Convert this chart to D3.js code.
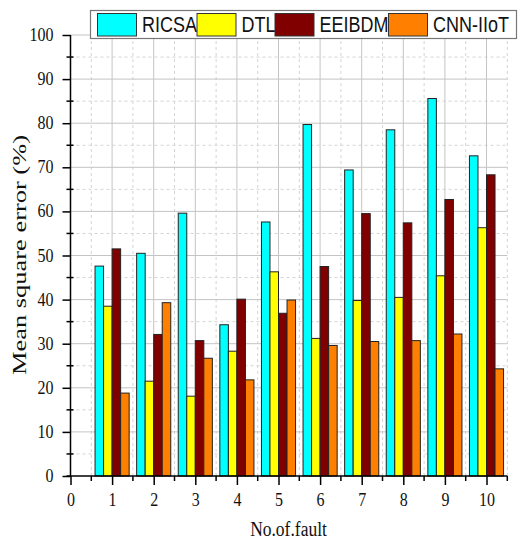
<!DOCTYPE html>
<html>
<head>
<meta charset="utf-8">
<script src="https://cdn.jsdelivr.net/npm/d3@7"></script>
<style>
  body { margin: 0; background: #fff; }
  svg { display: block; }
</style>
</head>
<body>
<div id="chart"></div>
<script>
// values
const faults = [1, 2, 3, 4, 5, 6, 7, 8, 9, 10];
const seriesNames = ["RICSA", "DTL", "EEIBDM", "CNN-IIoT"];
const ricsa  = [47.6, 50.5, 59.6, 34.3, 57.6, 79.7, 69.4, 78.5, 85.6, 72.6];
const dtl    = [38.5, 21.5, 18.1, 28.3, 46.3, 31.2, 39.8, 40.5, 45.4, 56.3];
const eeibdm = [51.5, 32.1, 30.7, 40.1, 36.9, 47.5, 59.5, 57.4, 62.7, 68.3];
const cnn    = [18.8, 39.3, 26.7, 21.8, 39.9, 29.6, 30.5, 30.7, 32.2, 24.3];
const xTicks = [0, 1, 2, 3, 4, 5, 6, 7, 8, 9, 10];
const yTicks = [0, 10, 20, 30, 40, 50, 60, 70, 80, 90, 100];

const colors = ["#00ffff", "#ffff00", "#800000", "#ff8000"];
const serif = "'Liberation Serif', 'Times New Roman', serif";
const sans = "'Liberation Sans', Arial, sans-serif";

const W = 519, H = 542;
const svg = d3.select("#chart").append("svg")
    .attr("width", W)
    .attr("height", H);

const x = d3.scaleLinear().domain([0, 10.5]).range([70.5, 507.3]);
const y = d3.scaleLinear().domain([0, 100]).range([476, 35]);

// grid
const grid = svg.append("g");
const halfX = d3.range(0.5, 10.6, 1);
const halfY = d3.range(5, 100, 10);
grid.selectAll(".vminor").data(halfX).enter().append("line")
    .attr("x1", d => x(d)).attr("x2", d => x(d))
    .attr("y1", y(0)).attr("y2", y(100))
    .attr("stroke", "#d4d4d4").attr("stroke-dasharray", "3,3");
grid.selectAll(".hminor").data(halfY).enter().append("line")
    .attr("x1", x(0)).attr("x2", x(10.5))
    .attr("y1", d => y(d)).attr("y2", d => y(d))
    .attr("stroke", "#d4d4d4").attr("stroke-dasharray", "3,3");
grid.selectAll(".vmajor").data(xTicks.slice(1)).enter().append("line")
    .attr("x1", d => x(d)).attr("x2", d => x(d))
    .attr("y1", y(0)).attr("y2", y(100))
    .attr("stroke", "#c4c4c4");
grid.selectAll(".hmajor").data(yTicks.slice(1)).enter().append("line")
    .attr("x1", x(0)).attr("x2", x(10.5))
    .attr("y1", d => y(d)).attr("y2", d => y(d))
    .attr("stroke", "#c4c4c4");

// bars
const series = [ricsa, dtl, eeibdm, cnn];
const bw = 0.205;
series.forEach((vals, s) => {
    svg.append("g").selectAll("rect")
        .data(vals)
        .enter()
        .append("rect")
        .attr("x", (d, i) => x(faults[i] - 0.41 + s * bw))
        .attr("y", d => y(d))
        .attr("width", x(bw) - x(0))
        .attr("height", d => y(0) - y(d))
        .attr("fill", colors[s])
        .attr("stroke", "#222")
        .attr("stroke-width", 1);
});

// axes
const yAxis = svg.append("g")
    .attr("transform", `translate(${x(0)},0)`)
    .call(d3.axisLeft(y).tickValues(yTicks).tickSize(8).tickPadding(9));
yAxis.select(".domain").attr("stroke-width", 1.5).attr("d", `M0,${y(0)}V${y(100)}`);
yAxis.selectAll(".tick line").attr("stroke-width", 1.5);
yAxis.selectAll(".tick text")
    .attr("font-family", serif).attr("font-size", 16).attr("fill", "#111")
    .attr("dy", "0.3em")
    .attr("transform", "scale(1,1.15)");

svg.append("g").selectAll("line").data(halfY).enter().append("line")
    .attr("x1", x(0) - 4).attr("x2", x(0) + 3)
    .attr("y1", d => y(d)).attr("y2", d => y(d))
    .attr("stroke", "#000").attr("stroke-width", 1.5);

const xAxis = svg.append("g")
    .attr("transform", `translate(0,${y(0)})`)
    .call(d3.axisBottom(x).tickValues(xTicks).tickSize(9).tickPadding(10));
xAxis.select(".domain").attr("stroke-width", 1.5).attr("d", `M${x(0) - 4},0H${x(10.5)}`);
xAxis.selectAll(".tick line").attr("stroke-width", 1.5);
xAxis.selectAll(".tick text")
    .attr("font-family", serif).attr("font-size", 16).attr("fill", "#111")
    .attr("y", 15).attr("dy", "0.71em")
    .attr("transform", "scale(1,1.15)");

svg.append("g").selectAll("line").data(halfX).enter().append("line")
    .attr("x1", d => x(d)).attr("x2", d => x(d))
    .attr("y1", y(0)).attr("y2", y(0) + 5)
    .attr("stroke", "#000").attr("stroke-width", 1.5);

// axis titles
svg.append("text")
    .attr("transform", "translate(26,255) rotate(-90)")
    .attr("text-anchor", "middle")
    .attr("font-family", serif).attr("font-size", 19).attr("fill", "#111")
    .attr("textLength", 240).attr("lengthAdjust", "spacingAndGlyphs")
    .text("Mean square error (%)");

svg.append("text")
    .attr("transform", "translate(288.5,536) scale(1,1.25)")
    .attr("text-anchor", "middle")
    .attr("font-family", serif).attr("font-size", 17.5).attr("fill", "#111")
    .text("No.of.fault");

// legend
const legend = svg.append("g");
legend.append("rect")
    .attr("x", 90.5).attr("y", 10.5).attr("width", 426).attr("height", 28)
    .attr("fill", "#fff").attr("stroke", "#777").attr("stroke-width", 1.2);
const swatchX = [97.5, 197, 275, 388.5];
seriesNames.forEach((name, i) => {
    legend.append("rect")
        .attr("x", swatchX[i]).attr("y", 13.5)
        .attr("width", 39).attr("height", 22.5)
        .attr("fill", colors[i]).attr("stroke", "#333").attr("stroke-width", 1);
    legend.append("text")
        .attr("transform", `translate(${swatchX[i] + 44.5},32) scale(1,1.2)`)
        .attr("font-family", sans).attr("font-size", 18).attr("fill", "#111")
        .text(name);
});
</script>
</body>
</html>
